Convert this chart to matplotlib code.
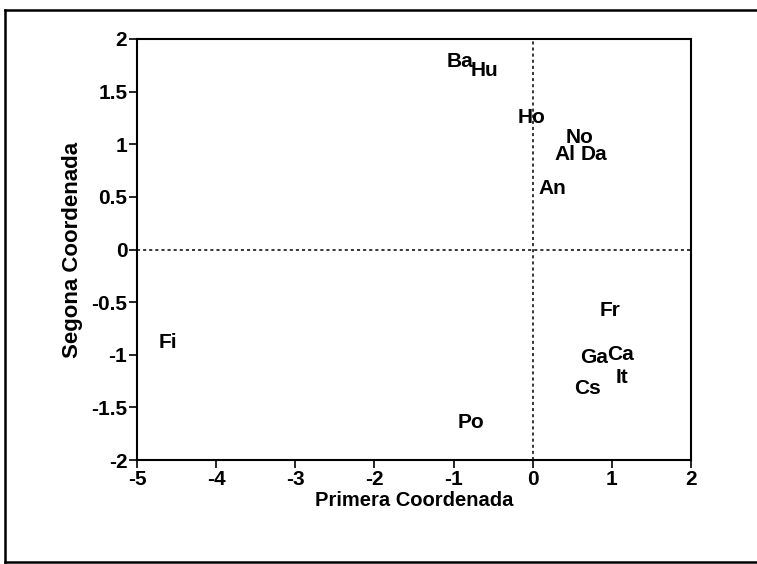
import matplotlib.pyplot as plt
from matplotlib.lines import Line2D
from matplotlib.ticker import FuncFormatter

# Country labels and their coordinates on the first two axes
labels = ['Ba', 'Hu', 'Ho', 'No', 'Al', 'Da', 'An', 'Fr', 'Ga', 'Ca', 'It', 'Cs', 'Fi', 'Po']
coord1 = [-0.92, -0.61, -0.02, 0.59, 0.41, 0.77, 0.25, 0.98, 0.77, 1.11, 1.13, 0.69, -4.61, -0.78]
coord2 = [1.79, 1.70, 1.25, 1.06, 0.90, 0.90, 0.58, -0.58, -1.03, -1.00, -1.22, -1.32, -0.88, -1.64]

xticks = [-5, -4, -3, -2, -1, 0, 1, 2]
yticks = [-2, -1.5, -1, -0.5, 0, 0.5, 1, 1.5, 2]

plt.rcParams['font.family'] = ['Liberation Sans', 'DejaVu Sans']
plt.rcParams['font.weight'] = 'bold'

fig = plt.figure(figsize=(7.57, 5.64), dpi=100)
ax = fig.add_axes([137 / 757, 1 - 460 / 564, (691 - 137) / 757, (460 - 39) / 564])

for lab, x, y in zip(labels, coord1, coord2):
    ax.text(x, y, lab, ha='center', va='center', fontsize=15, fontweight='bold')

ax.axhline(0, color='black', linestyle=(0, (2, 2)), linewidth=1.1)
ax.axvline(0, color='black', linestyle=(0, (2, 2)), linewidth=1.1)

ax.set_xlim(-5, 2)
ax.set_ylim(-2, 2)
ax.set_xticks(xticks)
ax.set_yticks(yticks)
fmt = FuncFormatter(lambda v, p: '%g' % v)
ax.xaxis.set_major_formatter(fmt)
ax.yaxis.set_major_formatter(fmt)
ax.tick_params(direction='out', length=6, width=1.2, labelsize=15, pad=1)
for lab in ax.get_xticklabels() + ax.get_yticklabels():
    lab.set_fontweight('bold')
for s in ax.spines.values():
    s.set_linewidth(1.5)

ax.set_xlabel('Primera Coordenada', fontsize=14.5, fontweight='bold', labelpad=2)
ax.set_ylabel('Segona Coordenada', fontsize=16, fontweight='bold', labelpad=6)

# outer frame of the scanned page
fl, ft, fb = 5 / 757, 1 - 10 / 564, 2 / 564
fig.add_artist(Line2D([fl, fl], [fb, ft], color='black', linewidth=1.8))
fig.add_artist(Line2D([fl, 1], [ft, ft], color='black', linewidth=1.8))
fig.add_artist(Line2D([fl, 1], [fb, fb], color='black', linewidth=1.8))

fig.savefig('out.png', dpi=100)
